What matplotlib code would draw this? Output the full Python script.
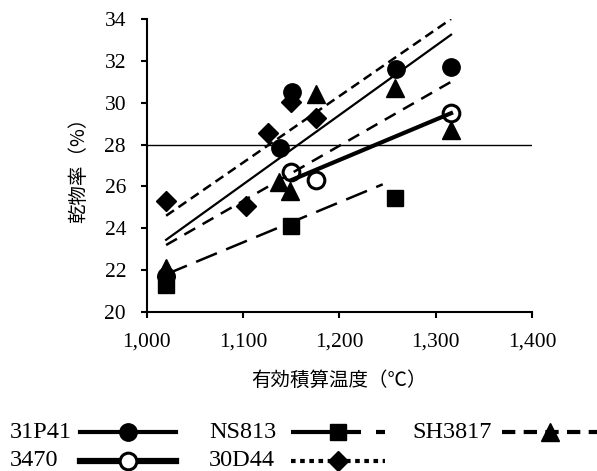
import matplotlib
matplotlib.use('Agg')
import matplotlib.pyplot as plt
from matplotlib.lines import Line2D

# data
x_31p41 = [1020, 1138, 1151, 1259, 1316]
y_31p41 = [21.7, 27.85, 30.5, 31.6, 31.7]
x_3470 = [1150, 1176, 1316]
y_3470 = [26.7, 26.3, 29.5]
x_ns813 = [1020, 1150, 1258]
y_ns813 = [21.3, 24.1, 25.45]
x_sh3817 = [1020, 1137, 1149, 1176, 1258, 1316]
y_sh3817 = [22.1, 26.2, 25.8, 30.4, 30.7, 28.7]
x_30d44 = [1020, 1103, 1126, 1150, 1176]
y_30d44 = [25.3, 25.05, 28.55, 30.05, 29.25]

# trend lines (end points)
trend_31p41 = ([1020, 1316], [23.45, 33.25])
trend_3470 = ([1150, 1316], [26.3, 29.5])
trend_ns813 = ([1020, 1245], [21.8, 26.1])
trend_sh3817 = ([1020, 1316], [23.2, 31.0])
trend_30d44 = ([1020, 1316], [24.6, 34.0])

ref_level = 28

xticks = [1000, 1100, 1200, 1300, 1400]
xtick_labels = ['1,000', '1,100', '1,200', '1,300', '1,400']
yticks = [20, 22, 24, 26, 28, 30, 32, 34]

plt.rcParams['font.family'] = ['Liberation Serif', 'DejaVu Serif']

W, H = 597, 471
fig = plt.figure(figsize=(W / 100, H / 100), dpi=100)
ax = fig.add_axes([0.246, 0.3376, 0.645, 0.622])

# name, x, y, trend, plot line style, marker style, legend line style,
# legend placement (text x, handle x0, x1, row y) in px
series = [
    ('31P41', x_31p41, y_31p41, trend_31p41,
     dict(color='black', lw=1.6, ls='-'),
     dict(marker='o', mfc='black', mec='black', ms=12.5),
     dict(color='black', lw=3.0, ls='-'),
     (10, 80, 176, 432)),
    ('NS813', x_ns813, y_ns813, trend_ns813,
     dict(color='black', lw=1.8, ls=(0, (9, 4))),
     dict(marker='s', mfc='black', mec='black', ms=11),
     dict(color='black', lw=3.0, ls=(0, (16.8, 3.6))),
     (209, 291, 385, 432)),
    ('SH3817', x_sh3817, y_sh3817, trend_sh3817,
     dict(color='black', lw=1.8, ls=(0, (5.0, 3.4))),
     dict(marker='^', mfc='black', mec='black', ms=12.5),
     dict(color='black', lw=3.0, ls=(0, (3.2, 2.0))),
     (412, 502, 597, 432)),
    ('3470', x_3470, y_3470, trend_3470,
     dict(color='black', lw=3.0, ls='-'),
     dict(marker='o', mfc='white', mec='black', mew=2.2, ms=12),
     dict(color='black', lw=4.5, ls='-'),
     (10, 80, 176, 461)),
    ('30D44', x_30d44, y_30d44, trend_30d44,
     dict(color='black', lw=1.8, ls=(0, (3.8, 2.2))),
     dict(marker='D', mfc='black', mec='black', ms=10),
     dict(color='black', lw=3.0, ls=(0, (1.1, 1.1))),
     (209, 291, 385, 461)),
]

ax.axhline(ref_level, color='black', lw=1.0, zorder=1)

for name, xs, ys, trend, lstyle, mstyle, legstyle, leg in series:
    ax.plot(xs, ys, ls='none', zorder=3, **mstyle)
    ax.plot(trend[0], trend[1], zorder=4, **lstyle)

    # legend entry: text on the left, line sample with a marker in the middle
    tx, x0, x1, ry = leg
    fy = 1 - ry / H
    fig.text(tx / W, fy, name, fontsize=17.5, ha='left', va='center')
    fig.add_artist(Line2D([x0 / W, x1 / W], [fy, fy], transform=fig.transFigure, **legstyle))
    fig.add_artist(Line2D([(x0 + x1) / 2 / W], [fy], transform=fig.transFigure,
                          ls='none', **mstyle))

ax.set_xlim(1000, 1400)
ax.set_ylim(20, 34)
ax.set_xticks(xticks)
ax.set_xticklabels(xtick_labels)
ax.set_yticks(yticks)
for s in ['top', 'right']:
    ax.spines[s].set_visible(False)
for s in ['left', 'bottom']:
    ax.spines[s].set_linewidth(1.5)
ax.tick_params(direction='out', length=4, width=1.5, labelsize=15.5)
ax.tick_params(axis='x', pad=11)
ax.tick_params(axis='y', pad=11)

cjk = ['Noto Sans CJK JP', 'DejaVu Sans']
ax.set_xlabel('有効積算温度（℃）', family=cjk, fontsize=14, labelpad=13)
ax.set_ylabel('乾物率（%）', family=cjk, fontsize=14, labelpad=11)

fig.savefig('out.png', dpi=100)
